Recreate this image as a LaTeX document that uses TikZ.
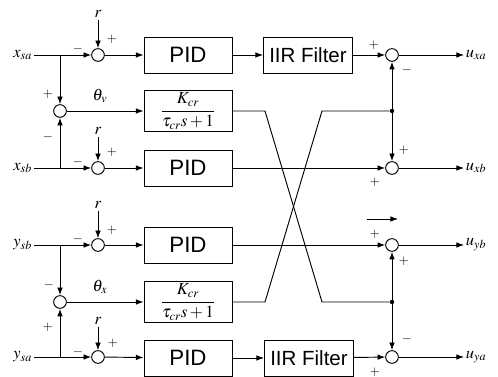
\documentclass[tikz,border=0pt]{standalone}
\usepackage{mathptmx}
\usepackage{fontspec}
\setmainfont{Liberation Serif}
\newfontfamily\boxfont{Liberation Sans}
\usetikzlibrary{arrows.meta}
\tikzset{
  sigarrow/.style={-{Latex[length=2.3mm,width=1.7mm]}, line width=0.8pt},
  sigline/.style={line width=0.8pt},
  sumnode/.style={circle, draw, line width=0.8pt, minimum size=0.38cm, inner sep=0pt},
  dotnode/.style={circle, fill, minimum size=0.13cm, inner sep=0pt},
  pidbox/.style={draw, line width=0.8pt, minimum width=2.64cm, minimum height=1.08cm, inner sep=0pt, font=\boxfont\fontsize{19}{21}\selectfont},
  iirbox/.style={draw, line width=0.8pt, minimum width=2.67cm, minimum height=1.08cm, inner sep=0pt, font=\boxfont\fontsize{17.5}{20}\selectfont},
  lagbox/.style={draw, line width=0.8pt, minimum width=2.64cm, minimum height=1.23cm, inner sep=0pt, font=\fontsize{14.5}{16}\selectfont},
  siglabel/.style={font=\fontsize{14}{16}\selectfont, inner sep=1.5pt},
  signlabel/.style={font=\fontsize{11}{12}\selectfont, inner sep=0pt},
}
\begin{document}
\begin{tikzpicture}[x=0.03cm,y=-0.03cm]
\path[use as bounding box] (0,0) rectangle (498,377);

% input signals
\node[siglabel,anchor=east] (xsa) at (34,55) {$x_{sa}$};
\node[siglabel,anchor=east] (xsb) at (34,168) {$x_{sb}$};
\node[siglabel,anchor=east] (ysb) at (34,245) {$y_{sb}$};
\node[siglabel,anchor=east] (ysa) at (34,357) {$y_{sa}$};
\coordinate (b1) at (60,55);
\coordinate (b3) at (60,168);
\coordinate (b4) at (60,245);
\coordinate (b6) at (60,357);

% summing junctions and blocks
\node[sumnode] (s1) at (98,55) {};
\node[sumnode] (s3) at (98,168) {};
\node[sumnode] (s4) at (98,245) {};
\node[sumnode] (s6) at (98,357) {};
\node[sumnode] (tv) at (60,111) {};
\node[sumnode] (tx) at (60,302) {};
\node[siglabel] (r1) at (98,14) {$r$};
\node[siglabel] (r3) at (98,131) {$r$};
\node[siglabel] (r4) at (98,205) {$r$};
\node[siglabel] (r6) at (98,321) {$r$};
\node[pidbox] (pid1) at (188,55) {PID};
\node[lagbox] (lag1) at (188,111) {$\displaystyle\frac{K_{cr}}{\tau_{cr}s+1}$};
\node[pidbox] (pid3) at (188,168) {PID};
\node[pidbox] (pid4) at (188,245) {PID};
\node[lagbox] (lag2) at (188,302) {$\displaystyle\frac{K_{cr}}{\tau_{cr}s+1}$};
\node[pidbox] (pid6) at (188,358) {PID};
\node[iirbox] (iir1) at (308,55) {IIR Filter};
\node[iirbox] (iir6) at (309,358) {IIR Filter};
\node[sumnode] (o1) at (392,55) {};
\node[sumnode] (o3) at (392,168) {};
\node[sumnode] (o4) at (392,245) {};
\node[sumnode] (o6) at (392,357) {};
\node[dotnode] (d1) at (392,111) {};
\node[dotnode] (d2) at (392,302) {};
\node[siglabel,anchor=west] (uxa) at (464,55) {$u_{xa}$};
\node[siglabel,anchor=west] (uxb) at (464,168) {$u_{xb}$};
\node[siglabel,anchor=west] (uyb) at (464,245) {$u_{yb}$};
\node[siglabel,anchor=west] (uya) at (464,357) {$u_{ya}$};

% theta labels
\node[siglabel] (thv) at (100,96) {$\theta_{v}$};
\node[siglabel] (thx) at (100,287) {$\theta_{x}$};

% signs
\node[signlabel] at (78,49) {$-$};
\node[signlabel] at (112,39) {$+$};
\node[signlabel] at (78,162) {$-$};
\node[signlabel] at (112,152) {$+$};
\node[signlabel] at (78,239) {$-$};
\node[signlabel] at (112,230) {$+$};
\node[signlabel] at (78,352) {$-$};
\node[signlabel] at (113,343) {$+$};
\node[signlabel] at (48,94) {$+$};
\node[signlabel] at (48,137) {$-$};
\node[signlabel] at (49,285) {$-$};
\node[signlabel] at (48,327) {$+$};
\node[signlabel] at (374,45) {$+$};
\node[signlabel] at (407,70) {$-$};
\node[signlabel] at (404,150) {$+$};
\node[signlabel] at (375,182) {$+$};
\node[signlabel] at (375,234) {$+$};
\node[signlabel] at (404,261) {$+$};
\node[signlabel] at (407,339) {$-$};
\node[signlabel] at (375,372) {$+$};

% x channel
\draw[sigarrow] (xsa) -- (s1);
\draw[sigarrow] (r1) -- (s1);
\draw[sigarrow] (s1) -- (pid1);
\draw[sigarrow] (pid1) -- (iir1);
\draw[sigarrow] (iir1) -- (o1);
\draw[sigarrow] (o1) -- (uxa);
\draw[sigarrow] (xsb) -- (s3);
\draw[sigarrow] (r3) -- (s3);
\draw[sigarrow] (s3) -- (pid3);
\draw[sigarrow] (pid3) -- (o3);
\draw[sigarrow] (o3) -- (uxb);
\draw[sigarrow] (b1) -- (tv);
\draw[sigarrow] (b3) -- (tv);
\draw[sigarrow] (tv) -- (lag1);

% y channel
\draw[sigarrow] (ysb) -- (s4);
\draw[sigarrow] (r4) -- (s4);
\draw[sigarrow] (s4) -- (pid4);
\draw[sigarrow] (pid4) -- (o4);
\draw[sigarrow] (o4) -- (uyb);
\draw[sigarrow] (ysa) -- (s6);
\draw[sigarrow] (r6) -- (s6);
\draw[sigarrow] (s6) -- (pid6);
\draw[sigarrow] (pid6) -- (iir6);
\draw[sigarrow] (iir6) -- (o6);
\draw[sigarrow] (o6) -- (uya);
\draw[sigarrow] (b4) -- (tx);
\draw[sigarrow] (b6) -- (tx);
\draw[sigarrow] (tx) -- (lag2);

% crossed coupling
\coordinate (c1) at (265,111);
\coordinate (c2) at (322,302);
\coordinate (c3) at (265,302);
\coordinate (c4) at (322,111);
\draw[sigline] (lag1.east) -- (c1) -- (c2) -- (d2);
\draw[sigline] (lag2.east) -- (c3) -- (c4) -- (d1);
\draw[sigarrow] (d1) -- (o1);
\draw[sigarrow] (d1) -- (o3);
\draw[sigarrow] (d2) -- (o4);
\draw[sigarrow] (d2) -- (o6);

\coordinate (m1) at (367,219);
\coordinate (m2) at (398,219);
\draw[sigarrow] (m1) -- (m2);
\end{tikzpicture}
\end{document}
